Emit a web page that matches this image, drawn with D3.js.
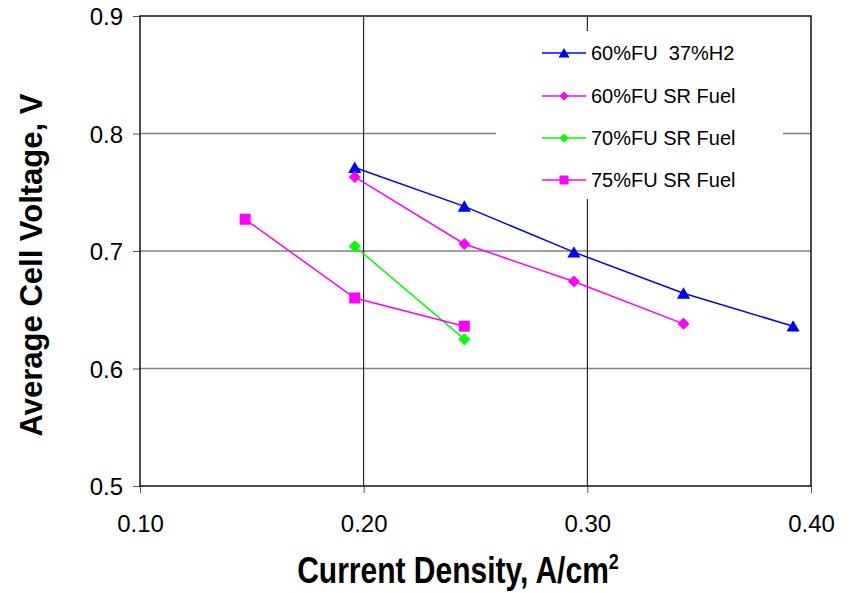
<!DOCTYPE html>
<html lang="en">
<head>
  <meta charset="UTF-8">
  <title>Cell voltage</title>
  <style>
    * { padding: 0; margin: 0; }
    body { background: #fff; }
    text { font-family: "Liberation Sans", Arial, sans-serif; }
  </style>
</head>
<body>
  <svg id="svg"></svg>
  <script src="https://cdnjs.cloudflare.com/ajax/libs/d3/7.8.5/d3.min.js"></script>
  <script>
    // series data
    const names = ['60%FU  37%H2', '60%FU SR Fuel', '70%FU SR Fuel', '75%FU SR Fuel']
    const colors = ['#0000ff', '#ff00ff', '#00ff00', '#ff00ff']
    const shapes = ['triangle', 'diamond', 'diamond', 'square']
    const h2X = [0.196, 0.245, 0.294, 0.343, 0.392]
    const h2Y = [0.771, 0.738, 0.699, 0.664, 0.636]
    const sr60X = [0.196, 0.245, 0.294, 0.343]
    const sr60Y = [0.763, 0.706, 0.674, 0.638]
    const sr70X = [0.196, 0.245]
    const sr70Y = [0.704, 0.625]
    const sr75X = [0.147, 0.196, 0.245]
    const sr75Y = [0.727, 0.660, 0.636]
    const xTicks = [0.10, 0.20, 0.30, 0.40]
    const yTicks = [0.5, 0.6, 0.7, 0.8, 0.9]

    const seriesX = [h2X, sr60X, sr70X, sr75X]
    const seriesY = [h2Y, sr60Y, sr70Y, sr75Y]

    const dimension = {
      width: 853,
      height: 593,
      margin: { top: 16, right: 42, bottom: 107, left: 140 }
    }
    const m = dimension.margin

    const svg = d3.select('#svg')
      .attr('width', dimension.width)
      .attr('height', dimension.height)

    const x = d3.scaleLinear().domain([0.1, 0.4]).range([m.left, dimension.width - m.right])
    const y = d3.scaleLinear().domain([0.5, 0.9]).range([dimension.height - m.bottom, m.top])

    // grid
    svg.append('g')
      .selectAll('line')
      .data(yTicks.slice(1, -1))
      .join('line')
      .attr('x1', x(0.1)).attr('x2', x(0.4))
      .attr('y1', d => y(d)).attr('y2', d => y(d))
      .attr('stroke', '#808080').attr('stroke-width', 1.5)

    svg.append('g')
      .selectAll('line')
      .data(xTicks.slice(1, -1))
      .join('line')
      .attr('y1', y(0.5)).attr('y2', y(0.9))
      .attr('x1', d => x(d)).attr('x2', d => x(d))
      .attr('stroke', '#000').attr('stroke-width', 1)

    // axes
    const xAxis = d3.axisBottom(x).tickValues(xTicks).tickFormat(d3.format('.2f')).tickSize(7).tickSizeOuter(0)
    const yAxis = d3.axisLeft(y).tickValues(yTicks).tickFormat(d3.format('.1f')).tickSize(7).tickSizeOuter(0)

    const gx = svg.append('g')
      .attr('transform', `translate(0, ${y(0.5)})`)
      .call(xAxis)
    gx.attr('font-size', null).attr('font-family', null)
    gx.selectAll('text').attr('font-size', 24).attr('y', 46).attr('dy', null).attr('fill', '#000')
    gx.selectAll('line').attr('stroke', '#555')

    const gy = svg.append('g')
      .attr('transform', `translate(${x(0.1)}, 0)`)
      .call(yAxis)
    gy.attr('font-size', null).attr('font-family', null)
    gy.selectAll('text').attr('font-size', 24).attr('x', -17).attr('dy', '0.36em').attr('fill', '#000')
    gy.selectAll('line').attr('stroke', '#555')
    svg.selectAll('.domain').remove()

    // frame
    svg.append('rect')
      .attr('x', x(0.1)).attr('y', y(0.9))
      .attr('width', x(0.4) - x(0.1)).attr('height', y(0.5) - y(0.9))
      .attr('fill', 'none').attr('stroke', '#111').attr('stroke-width', 1.5)

    // legend background hides grid behind it
    const legend = svg.append('g').attr('id', 'legend')
    legend.append('rect')
      .attr('x', 496).attr('y', 31).attr('width', 287).attr('height', 168)
      .attr('fill', '#fff')

    const symbol = (shape, r) => {
      if (shape === 'triangle') return `M0,${-r}L${r * 1.1},${r * 0.9}L${-r * 1.1},${r * 0.9}Z`
      if (shape === 'square') return `M${-r},${-r}H${r}V${r}H${-r}Z`
      return `M0,${-r}L${r},0L0,${r}L${-r},0Z`
    }
    const radius = { triangle: 6, diamond: 6, square: 5.5 }

    const line = d3.line().x(d => x(d[0])).y(d => y(d[1]))

    seriesX.forEach((xs, i) => {
      const pts = xs.map((v, j) => [v, seriesY[i][j]])
      svg.append('path')
        .datum(pts)
        .attr('d', line)
        .attr('fill', 'none')
        .attr('stroke', colors[i])
        .attr('stroke-width', 1.5)
      svg.append('g')
        .selectAll('path')
        .data(pts)
        .join('path')
        .attr('transform', d => `translate(${x(d[0])}, ${y(d[1])})`)
        .attr('d', symbol(shapes[i], radius[shapes[i]]))
        .attr('fill', colors[i])
    })

    const rowY = [53, 96, 138, 180]
    names.forEach((name, i) => {
      const row = legend.append('g').attr('transform', `translate(0, ${rowY[i]})`)
      row.append('line')
        .attr('x1', 542).attr('x2', 586)
        .attr('stroke', colors[i]).attr('stroke-width', 1.5)
      row.append('path')
        .attr('transform', 'translate(564, 0)')
        .attr('d', symbol(shapes[i], shapes[i] === 'triangle' ? 5 : 4.5))
        .attr('fill', colors[i])
      row.append('text')
        .attr('x', 591).attr('y', 0).attr('dy', '0.36em')
        .attr('font-size', 20)
        .attr('xml:space', 'preserve')
        .style('white-space', 'pre')
        .text(name)
    })

    // axis titles
    const xt = svg.append('text')
      .attr('transform', 'translate(458, 583) scale(1, 1.2)')
      .attr('text-anchor', 'middle')
      .attr('font-size', 30).attr('font-weight', 'bold')
      .text('Current Density, A/cm')
    xt.append('tspan').attr('dy', -12).attr('font-size', 18).text('2')

    svg.append('text')
      .attr('transform', 'translate(42, 265) rotate(-90)')
      .attr('text-anchor', 'middle')
      .attr('font-size', 31).attr('font-weight', 'bold')
      .text('Average Cell Voltage, V')
  </script>
</body>
</html>
